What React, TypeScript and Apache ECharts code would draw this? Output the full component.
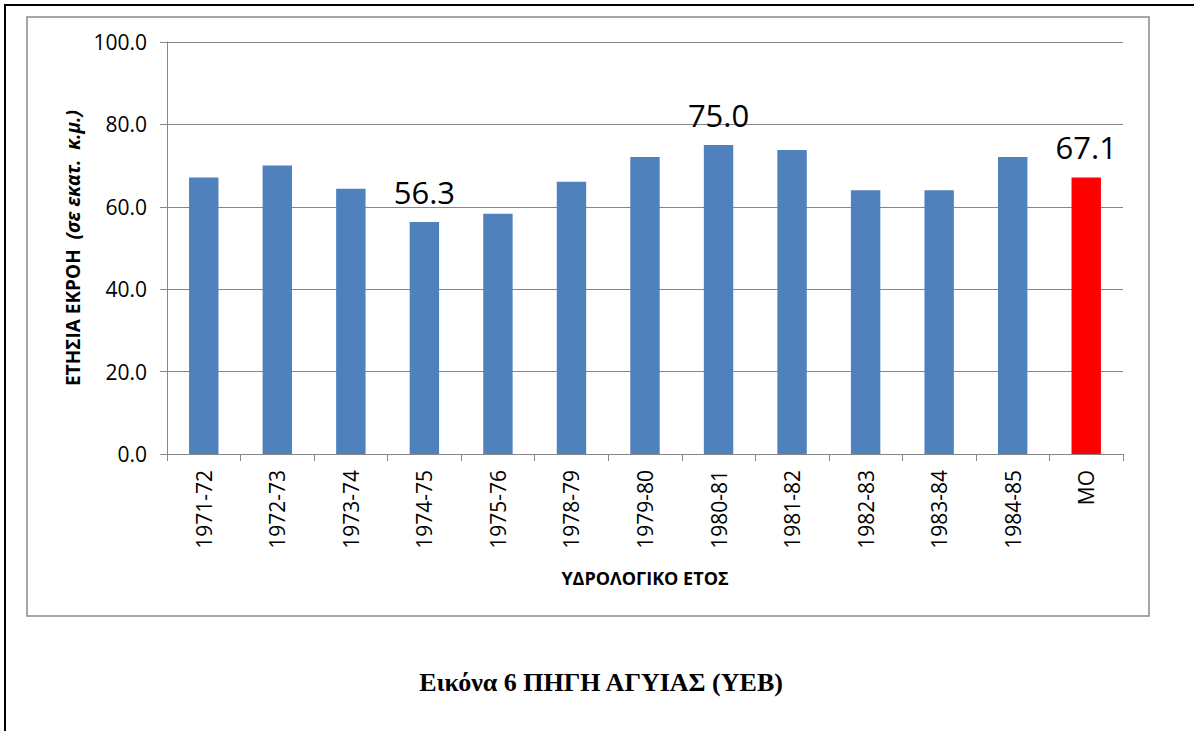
import React, { useEffect, useRef } from "react";
import * as echarts from "echarts";

const categories = [
  "1971-72", "1972-73", "1973-74", "1974-75", "1975-76", "1978-79",
  "1979-80", "1980-81", "1981-82", "1982-83", "1983-84", "1984-85", "ΜΟ",
];
const values = [67.1, 70.0, 64.4, 56.3, 58.3, 66.1, 72.1, 75.0, 73.8, 64.0, 64.0, 72.1, 67.1];
const labelledCategories = ["1974-75", "1980-81", "ΜΟ"];
const meanCategory = "ΜΟ";
const yTicks = { min: 0, max: 100, interval: 20 };

const FONT = "'Open Sans', 'Liberation Sans', sans-serif";

export default function App() {
  const ref = useRef<HTMLDivElement>(null);
  useEffect(() => {
    if (!ref.current) return;
    const chart = echarts.init(ref.current, null, { renderer: "svg" });
    const data = categories.map((c, i) => ({
      value: values[i],
      itemStyle: { color: c === meanCategory ? "#FF0000" : "#4F81BD" },
      label: { show: labelledCategories.includes(c) },
    }));
    chart.setOption({
      animation: false,
      backgroundColor: "#fff",
      grid: { left: 167, top: 42, right: 71, bottom: 277, containLabel: false },
      xAxis: {
        type: "category",
        data: categories,
        name: "ΥΔΡΟΛΟΓΙΚΟ ΕΤΟΣ",
        nameLocation: "middle",
        nameGap: 115,
        nameTextStyle: { fontFamily: FONT, fontWeight: "bold", fontSize: 18, color: "#000" },
        axisLine: { show: true, lineStyle: { color: "#868686", width: 1 } },
        axisTick: { show: true, length: 7, alignWithLabel: false, lineStyle: { color: "#868686" } },
        axisLabel: {
          rotate: 90,
          margin: 16,
          interval: 0,
          fontFamily: FONT,
          fontSize: 21,
          color: "#000",
        },
        splitLine: { show: false },
      },
      yAxis: {
        type: "value",
        min: yTicks.min,
        max: yTicks.max,
        interval: yTicks.interval,
        name: "{a|ΕΤΗΣΙΑ ΕΚΡΟΗ  }{b|(σε εκατ.  κ.μ.)}",
        nameLocation: "middle",
        nameGap: 84,
        nameRotate: 90,
        nameTextStyle: {
          rich: {
            a: { fontFamily: FONT, fontWeight: "bold", fontSize: 19, color: "#000" },
            b: { fontFamily: FONT, fontWeight: "bold", fontStyle: "italic", fontSize: 19, color: "#000" },
          },
        },
        axisLine: { show: true, lineStyle: { color: "#868686", width: 1 } },
        axisTick: { show: true, length: 7, lineStyle: { color: "#868686" } },
        axisLabel: {
          formatter: (v: number) => v.toFixed(1),
          margin: 20,
          fontFamily: FONT,
          fontSize: 21,
          color: "#000",
        },
        splitLine: { show: true, lineStyle: { color: "#868686", width: 1 } },
      },
      series: [
        {
          type: "bar",
          data,
          barWidth: "40%",
          label: {
            position: "top",
            distance: 15,
            fontFamily: FONT,
            fontSize: 31,
            color: "#000",
            formatter: (p: any) => Number(p.value).toFixed(1),
          },
        },
      ],
      graphic: [
        {
          type: "rect",
          shape: { x: 27, y: 17, width: 1122, height: 599 },
          style: { fill: "none", stroke: "#888888", lineWidth: 1.5 },
          z: -1,
        },
        {
          type: "line",
          shape: { x1: 4, y1: 5, x2: 1194, y2: 5 },
          style: { stroke: "#000", lineWidth: 2 },
        },
        {
          type: "line",
          shape: { x1: 5, y1: 4, x2: 5, y2: 731 },
          style: { stroke: "#000", lineWidth: 2 },
        },
        {
          type: "text",
          x: 601,
          y: 682,
          style: {
            text: "Εικόνα 6 ΠΗΓΗ ΑΓΥΙΑΣ (ΥΕΒ)",
            fontFamily: "'Liberation Serif', 'Times New Roman', serif",
            fontWeight: "bold",
            fontSize: 26,
            fill: "#000",
            align: "center",
            verticalAlign: "middle",
          },
        },
      ],
    });
    return () => chart.dispose();
  }, []);
  return (
    <div
      ref={ref}
      style={{ position: "fixed", left: 0, top: 0, width: 1194, height: 731, background: "#fff" }}
    />
  );
}
